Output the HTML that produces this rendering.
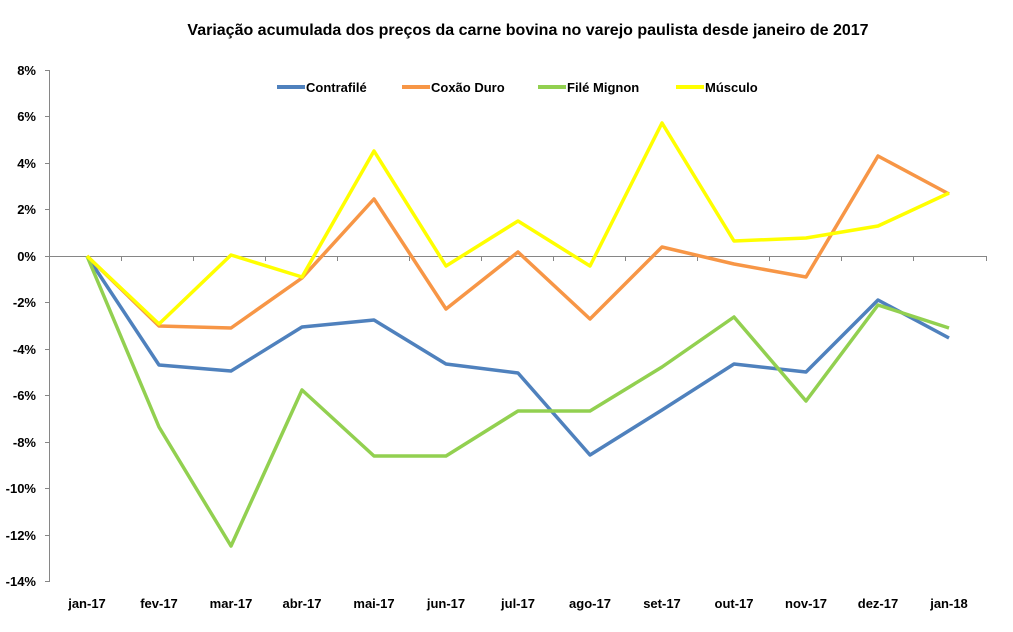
<!DOCTYPE html>
<html><head><meta charset="utf-8"><style>body{margin:0;background:#fff}svg{display:block}text{font-family:"Liberation Sans",sans-serif;font-weight:bold;fill:#000}</style></head><body>
<svg width="1013" height="632" viewBox="0 0 1013 632" xmlns="http://www.w3.org/2000/svg">
<text x="528" y="35" font-size="16" text-anchor="middle">Variação acumulada dos preços da carne bovina no varejo paulista desde janeiro de 2017</text>
<g stroke="#868686" stroke-width="1">
<line x1="49.5" y1="70" x2="49.5" y2="582"/>
<line x1="49" y1="256.5" x2="987" y2="256.5"/>
<g id="yt"></g>
<path d="M45 70.5h5M45 116.5h5M45 163.5h5M45 209.5h5M45 256.5h5M45 302.5h5M45 349.5h5M45 395.5h5M45 442.5h5M45 488.5h5M45 535.5h5M45 581.5h5"/>
<path d="M121.5 256v5M193.5 256v5M265.5 256v5M337.5 256v5M409.5 256v5M481.5 256v5M553.5 256v5M625.5 256v5M697.5 256v5M769.5 256v5M841.5 256v5M913.5 256v5M986.5 256v5"/>
</g>
<g font-size="13" text-anchor="end">
<text x="36" y="75">8%</text><text x="36" y="121">6%</text><text x="36" y="168">4%</text><text x="36" y="214">2%</text><text x="36" y="261">0%</text><text x="36" y="307">-2%</text><text x="36" y="354">-4%</text><text x="36" y="400">-6%</text><text x="36" y="447">-8%</text><text x="36" y="493">-10%</text><text x="36" y="540">-12%</text><text x="36" y="586">-14%</text>
</g>
<g font-size="13" text-anchor="middle">
<text x="87" y="608">jan-17</text><text x="159" y="608">fev-17</text><text x="231" y="608">mar-17</text><text x="302" y="608">abr-17</text><text x="374" y="608">mai-17</text><text x="446" y="608">jun-17</text><text x="518" y="608">jul-17</text><text x="590" y="608">ago-17</text><text x="662" y="608">set-17</text><text x="734" y="608">out-17</text><text x="806" y="608">nov-17</text><text x="878" y="608">dez-17</text><text x="949" y="608">jan-18</text>
</g>
<g fill="none" stroke-width="3.5" stroke-linejoin="round">
<polyline stroke="#4f81bd" points="87,256 159,365 231,371 302,327 374,320 446,364 518,373 590,455 662,410 734,364 806,372 878,300 949,338"/>
<polyline stroke="#f79646" points="87,256 159,326 231,328 302,278 374,199 446,309 518,252 590,319 662,247 734,264 806,277 878,156 949,194"/>
<polyline stroke="#92d050" points="87,256 159,427 231,546 302,390 374,456 446,456 518,411 590,411 662,367 734,317 806,401 878,305 949,328"/>
<polyline stroke="#ffff00" points="87,256 159,324 231,255 302,277 374,151 446,266 518,221 590,266 662,123 734,241 806,238 878,226 949,193"/>
</g>
<g stroke-width="4">
<line x1="277" y1="87" x2="305" y2="87" stroke="#4f81bd"/>
<line x1="402" y1="87" x2="430" y2="87" stroke="#f79646"/>
<line x1="538" y1="87" x2="566" y2="87" stroke="#92d050"/>
<line x1="676" y1="87" x2="704" y2="87" stroke="#ffff00"/>
</g>
<g font-size="13">
<text x="306" y="92">Contrafilé</text><text x="431" y="92">Coxão Duro</text><text x="567" y="92">Filé Mignon</text><text x="705" y="92">Músculo</text>
</g>
</svg>
</body></html>
